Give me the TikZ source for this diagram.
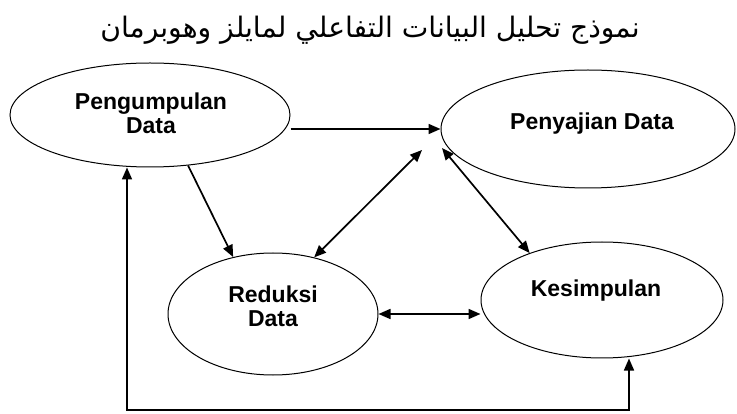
\documentclass[tikz,border=0pt]{standalone}
\usepackage{fontspec}
\setsansfont{Liberation Sans}
\newfontfamily\arabicfont[Script=Arabic]{DejaVu Sans}
\TeXXeTstate=1
\usetikzlibrary{arrows.meta,shapes.geometric}

\tikzset{
  blob/.style={draw,ellipse,line width=1pt,inner sep=0pt},
  txt/.style={align=center,font=\sffamily\bfseries\fontsize{23}{24}\selectfont},
  link/.style={line width=1.7pt},
}

\begin{document}
\begin{tikzpicture}[x=1pt,y=-1pt,>={Triangle[length=12pt,width=10pt]}]
\useasboundingbox (0,0) rectangle (737,414);
\node[font=\arabicfont\fontsize{28.2}{32}\selectfont] (title) at (370,30)
  {\beginR نموذج تحليل البيانات التفاعلي لمايلز وهوبرمان\endR};

\node[blob,minimum width=280pt,minimum height=104pt] (peng) at (150,115) {};
\node[blob,minimum width=294pt,minimum height=118pt] (saji) at (588,129) {};
\node[blob,minimum width=210pt,minimum height=122pt] (red) at (273,314) {};
\node[blob,minimum width=242pt,minimum height=116pt] (kes) at (602,300) {};

\node[txt] (peng-t) at (151,113) {Pengumpulan\\Data};
\node[txt] (saji-t) at (592,124) {Penyajian Data};
\node[txt] (red-t) at (273,306) {Reduksi\\Data};
\node[txt] (kes-t) at (596,291) {Kesimpulan};

\coordinate (hubL) at (422,150);
\coordinate (hubR) at (442,148);
\coordinate (loopL) at (127,410);
\coordinate (loopR) at (629,410);

\draw[link,->] (peng.east |- saji.west) -- (saji.west);
\draw[link,->] (peng.-53) -- (red.125);
\draw[link,<->] (red.54) -- (hubL);
\draw[link,<->] (hubR) -- (kes.147);
\draw[link,<->] (red.east) -- (red.east -| kes.west);
\draw[link,<->] (peng.south -| loopL) -- (loopL) -- (loopR) -- (kes.south -| loopR);
\end{tikzpicture}
\end{document}
